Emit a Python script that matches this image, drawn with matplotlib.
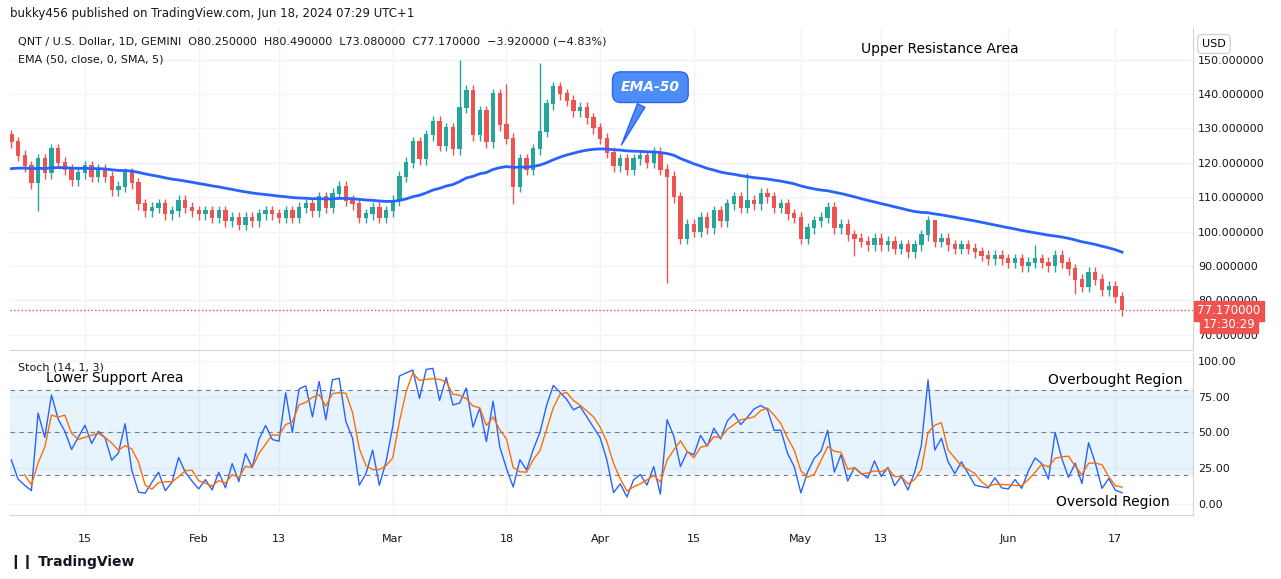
import numpy as np
import matplotlib
matplotlib.use('agg')
import matplotlib.pyplot as plt
from matplotlib.patches import FancyBboxPatch

# daily closes, Jan 4 .. Jun 18 2024 (day index 0 = Jan 15)
start_day = -11
closes = [
    126, 122, 119, 114, 121, 117, 124, 120, 118, 115, 117,
    119, 116, 118, 116, 112, 113, 117, 114, 108, 106, 107, 108, 105, 106, 109, 107, 106,
    105, 106, 104, 106, 103, 104, 102, 104, 103, 105, 106, 105, 104, 106, 104, 107, 108,
    106, 110, 107, 111, 113, 109, 108, 104, 105, 107, 104, 106,
    109, 116, 120, 126, 121, 128, 132, 125, 130, 124, 136, 141, 128, 135, 126, 140, 131,
    127, 113, 121, 118, 124, 129, 137, 142, 140, 138, 135, 136, 133, 130,
    127, 123, 119, 121, 118, 121, 122, 120, 123, 118, 116, 110, 98, 102, 100, 104, 101,
    106, 103, 108, 110, 107, 109, 108, 111, 110, 107, 108, 105, 104,
    98, 101, 103, 104, 107, 101, 102, 99, 98, 97, 96, 98, 96, 97, 95, 96, 94, 96, 99,
    103, 97, 98, 96, 95, 96, 95, 94, 93, 92, 93, 92,
    91, 92, 90, 91, 92, 91, 90, 93, 91, 89, 86, 84, 88, 86, 83, 84, 81, 77.17,
]
first_open = 128
# notable wick extremes (day index -> value)
spike_highs = {56: 150, 68: 149, 63: 143, 99: 117, 127: 103, 142: 96}
spike_lows = {-7: 106, 87: 85, 64: 108, 115: 93, 148: 82}
wick = 1.6
ema_seed = 118.0

date_ticks = [0, 17, 29, 46, 63, 77, 91, 107, 119, 138, 154]
date_labels = ["15", "Feb", "13", "Mar", "18", "Apr", "15", "May", "13", "Jun", "17"]
price_ticks = [70, 80, 90, 100, 110, 120, 130, 140, 150]
stoch_ticks = [0, 25, 50, 75, 100]

UP, DOWN = "#26a69a", "#ef5350"
BLUE, ORANGE = "#2962ff", "#ff6d00"

c = np.array(closes, float)
o = np.concatenate([[first_open], c[:-1]])
days = np.arange(start_day, start_day + len(c))
h = np.maximum(o, c) + wick
l = np.minimum(o, c) - wick
for d, v in spike_highs.items():
    h[d - start_day] = v
for d, v in spike_lows.items():
    l[d - start_day] = v

ema = np.empty_like(c)
alpha = 2 / 51
prev = ema_seed
for i, v in enumerate(c):
    prev = prev + alpha * (v - prev)
    ema[i] = prev

k = np.full_like(c, np.nan)
for i in range(len(c)):
    lo = l[max(0, i - 13):i + 1].min()
    hi = h[max(0, i - 13):i + 1].max()
    k[i] = 100 * (c[i] - lo) / (hi - lo)
d3 = np.convolve(k, np.ones(3) / 3, mode="full")[:len(k)]
d3[:2] = np.nan

W, H = 1281, 579
fig = plt.figure(figsize=(W / 100, H / 100), dpi=100)
fig.patch.set_facecolor("white")


def px(x0, y0, x1, y1):
    return [x0 / W, 1 - y1 / H, (x1 - x0) / W, (y1 - y0) / H]


xl = (-11.2, 165.6)
ax = fig.add_axes(px(10, 28, 1193, 350))
ax2 = fig.add_axes(px(10, 353, 1193, 515))
for a in (ax, ax2):
    a.set_xlim(*xl)
    a.set_xticks(date_ticks)
    a.grid(True, color="#f0f3fa", lw=1)
    a.set_axisbelow(True)
    a.yaxis.tick_right()
    a.tick_params(length=0, labelsize=8, colors="#131722")
    for s in a.spines.values():
        s.set_color("#d1d4dc")
    a.spines["left"].set_visible(False)
    a.spines["top"].set_visible(False)

ax.set_ylim(65.6, 159.2)
ax.set_yticks(price_ticks)
ax.set_yticklabels([f"{v:.6f}" for v in price_ticks])
ax.set_xticklabels([])

cols = [UP if cc >= oo else DOWN for oo, cc in zip(o, c)]
ax.vlines(days, l, h, colors=cols, lw=1)
ax.bar(days, np.abs(c - o) + 0.3, bottom=np.minimum(o, c), width=0.65, color=cols)
ax.plot(days, ema, color=BLUE, lw=2)
ax.axhline(77.17, color=DOWN, ls=":", lw=1)

ax2.set_ylim(-7.7, 105.6)
ax2.set_yticks(stoch_ticks)
ax2.set_yticklabels([f"{v:.2f}" for v in stoch_ticks])
ax2.set_xticklabels(date_labels)
ax2.tick_params(axis="x", pad=14)
ax2.axhspan(20, 80, color="#2196f3", alpha=0.1, lw=0)
for v in (80, 50, 20):
    ax2.axhline(v, color="#787b86", ls=(0, (4, 4)), lw=0.8)
ax2.plot(days, k, color=BLUE, lw=1)
ax2.plot(days, d3, color=ORANGE, lw=1)

# texts
fig.text(10 / W, 1 - 14 / H, "bukky456 published on TradingView.com, Jun 18, 2024 07:29 UTC+1",
         fontsize=8.5, color="#131722", va="center")
fig.text(18 / W, 1 - 42 / H, "QNT / U.S. Dollar, 1D, GEMINI  O80.250000  H80.490000  L73.080000  C77.170000  \u22123.920000 (\u22124.83%)",
         fontsize=8, color="#131722", va="center")
fig.text(18 / W, 1 - 59 / H, "EMA (50, close, 0, SMA, 5)", fontsize=8, color="#131722", va="center")
fig.text(18 / W, 1 - 367 / H, "Stoch (14, 1, 3)", fontsize=8, color="#131722", va="center")
fig.text(940 / W, 1 - 49 / H, "Upper Resistance Area", fontsize=10, ha="center", va="center")
fig.text(115 / W, 1 - 378 / H, "Lower Support Area", fontsize=10, ha="center", va="center")
fig.text(1115 / W, 1 - 380 / H, "Overbought Region", fontsize=10, ha="center", va="center")
fig.text(1113 / W, 1 - 502 / H, "Oversold Region", fontsize=10, ha="center", va="center")
fig.text(1214 / W, 1 - 44 / H, "USD", fontsize=8, ha="center", va="center",
         bbox=dict(boxstyle="round,pad=0.4", fc="white", ec="#d1d4dc"))
fig.text(1229 / W, 1 - 311 / H, "77.170000", fontsize=8.5, color="white", ha="center", va="center",
         bbox=dict(boxstyle="square,pad=0.3", fc=DOWN, ec=DOWN))
fig.text(1229 / W, 1 - 324 / H, "17:30:29", fontsize=8.5, color="white", ha="center", va="center",
         bbox=dict(boxstyle="square,pad=0.2", fc=DOWN, ec=DOWN))
fig.text(10 / W, 1 - 562 / H, "\u2759\u2759 TradingView", fontsize=10, color="#131722", va="center",
         fontweight="bold")

# EMA-50 callout
ax.annotate("EMA-50", xy=(80, 124.5), xytext=(84.5, 142), ha="center", va="center",
            fontsize=10, color="white", fontstyle="italic", fontweight="bold",
            bbox=dict(boxstyle="round,pad=0.6", fc="#4c8df6", ec="#2962ff"),
            arrowprops=dict(arrowstyle="wedge,tail_width=0.6", fc="#4c8df6", ec="#2962ff"))

fig.savefig("out.png", dpi=100)
